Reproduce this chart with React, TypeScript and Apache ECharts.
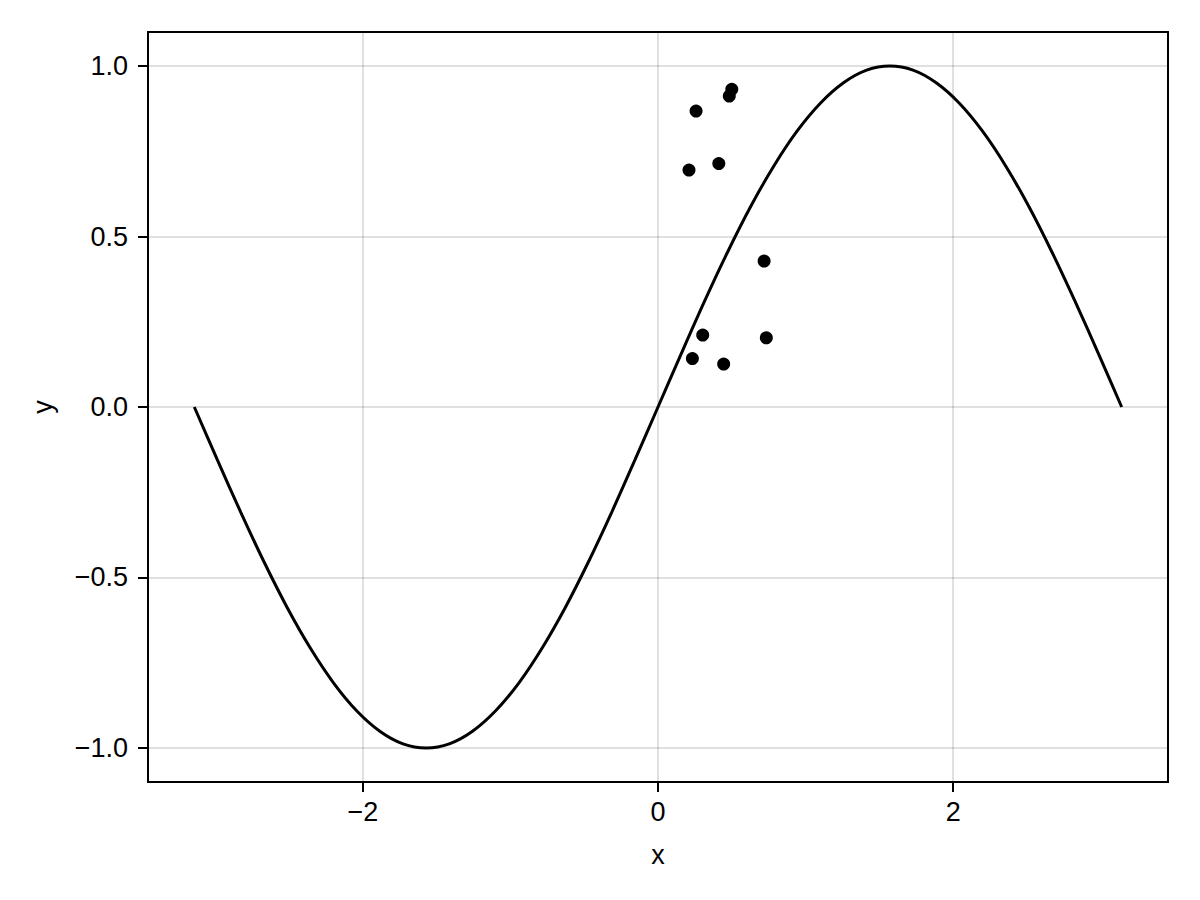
import React, { useEffect, useRef } from "react";
import * as echarts from "echarts";

const lineX = [
  -3.142, -2.985, -2.827, -2.670, -2.513, -2.356, -2.199, -2.042, -1.885, -1.728,
  -1.571, -1.414, -1.257, -1.100, -0.942, -0.785, -0.628, -0.471, -0.314, -0.157,
  0.0, 0.157, 0.314, 0.471, 0.628, 0.785, 0.942, 1.100, 1.257, 1.414,
  1.571, 1.728, 1.885, 2.042, 2.199, 2.356, 2.513, 2.670, 2.827, 2.985, 3.142,
];
const lineY = [
  0.0, -0.156, -0.309, -0.454, -0.588, -0.707, -0.809, -0.891, -0.951, -0.988,
  -1.0, -0.988, -0.951, -0.891, -0.809, -0.707, -0.588, -0.454, -0.309, -0.156,
  0.0, 0.156, 0.309, 0.454, 0.588, 0.707, 0.809, 0.891, 0.951, 0.988,
  1.0, 0.988, 0.951, 0.891, 0.809, 0.707, 0.588, 0.454, 0.309, 0.156, 0.0,
];
const pointX = [0.5, 0.483, 0.258, 0.21, 0.412, 0.719, 0.303, 0.734, 0.233, 0.445];
const pointY = [0.932, 0.912, 0.868, 0.695, 0.714, 0.428, 0.211, 0.203, 0.142, 0.126];
const xTicks = [-2, 0, 2];
const yTicks = [-1.0, -0.5, 0.0, 0.5, 1.0];

const FONT = "'Liberation Sans', 'DejaVu Sans', sans-serif";
const minus = (s: string) => s.replace("-", "\u2212");

export default function App() {
  const ref = useRef<HTMLDivElement>(null);
  useEffect(() => {
    if (!ref.current) return;
    const chart = echarts.init(ref.current, undefined, { renderer: "svg" });
    const gridColor = "rgba(0,0,0,0.12)";
    chart.setOption({
      animation: false,
      backgroundColor: "#ffffff",
      grid: {
        left: 148,
        top: 32,
        right: 32,
        bottom: 118,
        show: true,
        borderColor: "#000",
        borderWidth: 2,
        backgroundColor: "transparent",
      },
      xAxis: {
        type: "value",
        min: -3.4558,
        max: 3.4558,
        name: "x",
        nameLocation: "middle",
        nameGap: 59,
        nameTextStyle: { fontFamily: FONT, fontSize: 27, color: "#000" },
        axisLine: { show: true, onZero: false, lineStyle: { color: "#000", width: 2 } },
        axisTick: {
          show: true,
          inside: false,
          length: 10,
          customValues: xTicks,
          lineStyle: { color: "#000", width: 2 },
        },
        axisLabel: {
          customValues: xTicks,
          margin: 16,
          fontFamily: FONT,
          fontSize: 27,
          color: "#000",
          formatter: (v: number) => minus(String(v)),
        },
        splitLine: { show: true, lineStyle: { color: gridColor, width: 2 } },
      },
      yAxis: {
        type: "value",
        min: -1.1,
        max: 1.1,
        name: "y",
        nameLocation: "middle",
        nameGap: 92,
        nameTextStyle: { fontFamily: FONT, fontSize: 27, color: "#000" },
        axisLine: { show: true, onZero: false, lineStyle: { color: "#000", width: 2 } },
        axisTick: {
          show: true,
          inside: false,
          length: 10,
          customValues: yTicks,
          lineStyle: { color: "#000", width: 2 },
        },
        axisLabel: {
          customValues: yTicks,
          margin: 20,
          fontFamily: FONT,
          fontSize: 27,
          color: "#000",
          formatter: (v: number) => minus(v.toFixed(1)),
        },
        splitLine: { show: true, lineStyle: { color: gridColor, width: 2 } },
      },
      series: [
        {
          type: "line",
          data: lineX.map((x, i) => [x, lineY[i]]),
          showSymbol: false,
          smooth: 0.3,
          lineStyle: { color: "#000", width: 3 },
          z: 2,
        },
        {
          type: "scatter",
          data: pointX.map((x, i) => [x, pointY[i]]),
          symbol: "circle",
          symbolSize: 13,
          itemStyle: { color: "#000", opacity: 1 },
          z: 3,
        },
      ],
    });
    return () => chart.dispose();
  }, []);
  return (
    <div
      ref={ref}
      style={{ position: "fixed", left: 0, top: 0, width: 1200, height: 900, background: "#fff" }}
    />
  );
}
